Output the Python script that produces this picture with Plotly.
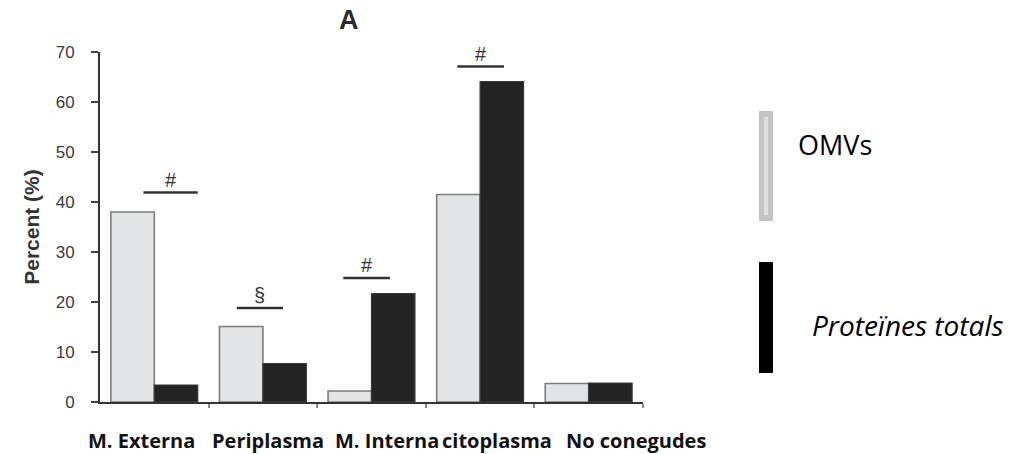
import plotly.graph_objects as go

# Subcellular location of identified proteins
categories = ["M. Externa", "Periplasma", "M. Interna", "citoplasma", "No conegudes"]
omvs = [38.0, 15.1, 2.2, 41.5, 3.7]
totals = [3.4, 7.7, 21.7, 64.1, 3.8]
series_names = ["OMVs", "Proteïnes totals"]
y_ticks = [0, 10, 20, 30, 40, 50, 60, 70]

# Significance marks: symbol, bar level, span relative to group centre
sig_symbols = ["#", "§", "#", "#"]
sig_groups = [0, 1, 2, 3]
sig_levels = [41.9, 18.8, 24.8, 67.1]
sig_spans = [(-0.10, 0.40), (-0.24, 0.185), (-0.26, 0.17), (-0.21, 0.22)]

W, H = 1020, 454
L, R, T, B = 100, 377, 52, 52
PW, PH = W - L - R, H - T - B


def px(x):
    return (x - L) / PW


def py(y):
    return (H - B - y) / PH


xs = list(range(len(categories)))

fig = go.Figure()
fig.add_trace(go.Bar(
    x=xs, y=omvs, name=series_names[0],
    marker=dict(color="#e3e4e6", line=dict(color="#7c7c7c", width=1.6)),
))
fig.add_trace(go.Bar(
    x=xs, y=totals, name=series_names[1],
    marker=dict(color="#242424", line=dict(color="#3a3a3a", width=1.2)),
))

shapes = []
annotations = []
for sym, g, lvl, (a, b) in zip(sig_symbols, sig_groups, sig_levels, sig_spans):
    shapes.append(dict(type="line", xref="x", yref="y", x0=g + a, x1=g + b,
                       y0=lvl, y1=lvl, line=dict(color="#333333", width=2.4)))
    annotations.append(dict(x=g + (a + b) / 2, y=lvl, xref="x", yref="y",
                            text=sym, showarrow=False, yanchor="bottom", yshift=0,
                            font=dict(family="Liberation Sans", size=20, color="#333333")))

# Category names under the axis
label_x = [-0.118, 1.047, 2.143, 3.156, 4.435]
for lx, name in zip(label_x, categories):
    annotations.append(dict(x=lx, xref="x", y=py(440), yref="paper", text="<b>%s</b>" % name,
                            showarrow=False, xanchor="center", yanchor="middle",
                            font=dict(family="Open Sans", size=20, color="#111111")))

# Panel title
annotations.append(dict(x=px(349), y=py(20), xref="paper", yref="paper", text="<b>A</b>",
                        showarrow=False, xanchor="center", yanchor="middle",
                        font=dict(family="Liberation Sans", size=27, color="#2a2a2a")))

# Side key
shapes.append(dict(type="rect", xref="paper", yref="paper", x0=px(759), x1=px(773),
                   y0=py(221), y1=py(111), fillcolor="#c4c4c4", line=dict(width=0), layer="above"))
shapes.append(dict(type="rect", xref="paper", yref="paper", x0=px(764), x1=px(768),
                   y0=py(215), y1=py(117), fillcolor="#dedede", line=dict(width=0), layer="above"))
shapes.append(dict(type="rect", xref="paper", yref="paper", x0=px(759), x1=px(773),
                   y0=py(373), y1=py(262), fillcolor="#000000", line=dict(width=0), layer="above"))
annotations.append(dict(x=px(796), y=py(144), xref="paper", yref="paper", text=series_names[0],
                        showarrow=False, xanchor="left", yanchor="middle",
                        font=dict(family="Open Sans", size=27, color="#000000")))
annotations.append(dict(x=px(810), y=py(325), xref="paper", yref="paper",
                        text="<i>%s</i>" % series_names[1],
                        showarrow=False, xanchor="left", yanchor="middle",
                        font=dict(family="Open Sans", size=28, color="#000000")))

fig.update_layout(
    width=W, height=H,
    margin=dict(l=L, r=R, t=T, b=B),
    paper_bgcolor="white", plot_bgcolor="white",
    barmode="group", bargap=0.2, bargroupgap=0.0,
    showlegend=False,
    shapes=shapes, annotations=annotations,
)
fig.update_xaxes(
    range=[-0.5, len(categories) - 0.5],
    tickvals=[i + 0.5 for i in xs], showticklabels=False,
    ticks="outside", ticklen=4, tickcolor="#888888", tickwidth=1.5,
    showline=True, linecolor="#333333", linewidth=2, showgrid=False, zeroline=False,
)
fig.update_yaxes(
    range=[0, 70], tickvals=y_ticks,
    ticks="outside", ticklen=7, tickcolor="#444444", tickwidth=1.5,
    showline=True, linecolor="#333333", linewidth=2, showgrid=False, zeroline=False,
    tickfont=dict(family="Liberation Sans", size=17, color="#3a3a3a"),
    ticklabelstandoff=13,
    title=dict(text="<b>Percent (%)</b>", standoff=10,
               font=dict(family="Liberation Sans", size=21, color="#333333")),
)

fig.write_html("out.html")
